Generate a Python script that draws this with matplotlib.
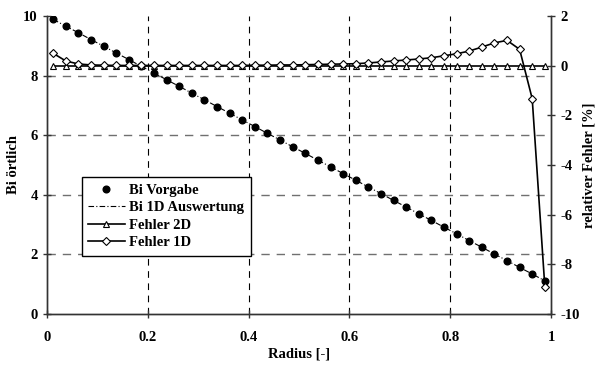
import numpy as np
import matplotlib
matplotlib.use("Agg")
import matplotlib.pyplot as plt

plt.rcParams['font.family'] = ['Liberation Serif', 'DejaVu Serif']
plt.rcParams['font.weight'] = 'bold'
plt.rcParams['axes.unicode_minus'] = False

# radius positions (same for all series)
radius = [0.0125, 0.0375, 0.0625, 0.0875, 0.1125, 0.1375, 0.1625, 0.1875,
          0.2125, 0.2375, 0.2625, 0.2875, 0.3125, 0.3375, 0.3625, 0.3875,
          0.4125, 0.4375, 0.4625, 0.4875, 0.5125, 0.5375, 0.5625, 0.5875,
          0.6125, 0.6375, 0.6625, 0.6875, 0.7125, 0.7375, 0.7625, 0.7875,
          0.8125, 0.8375, 0.8625, 0.8875, 0.9125, 0.9375, 0.9625, 0.9875]

bi_vorgabe = [9.89, 9.66, 9.44, 9.21, 8.99, 8.76, 8.54, 8.31, 8.09, 7.86,
              7.64, 7.41, 7.19, 6.96, 6.74, 6.51, 6.29, 6.06, 5.84, 5.61,
              5.39, 5.16, 4.94, 4.71, 4.49, 4.26, 4.04, 3.81, 3.59, 3.36,
              3.14, 2.91, 2.69, 2.46, 2.24, 2.01, 1.79, 1.56, 1.34, 1.11]

bi_1d = [9.89, 9.66, 9.44, 9.21, 8.99, 8.76, 8.54, 8.31, 8.09, 7.86,
         7.64, 7.41, 7.19, 6.96, 6.74, 6.51, 6.29, 6.06, 5.84, 5.61,
         5.39, 5.16, 4.94, 4.71, 4.49, 4.26, 4.04, 3.81, 3.59, 3.36,
         3.14, 2.91, 2.69, 2.46, 2.24, 2.01, 1.79, 1.56, 1.34, 1.11]

fehler_2d = [0.0] * 40

fehler_1d = [0.50, 0.19, 0.07, 0.03, 0.02, 0.01, 0.01, 0.01, 0.01, 0.01,
             0.01, 0.01, 0.01, 0.01, 0.01, 0.01, 0.02, 0.02, 0.03, 0.03,
             0.04, 0.05, 0.06, 0.07, 0.08, 0.11, 0.15, 0.19, 0.23, 0.27,
             0.32, 0.40, 0.48, 0.59, 0.75, 0.92, 1.02, 0.66, -1.33, -8.90]

fig = plt.figure(figsize=(6.01, 3.65), dpi=100)
ax1 = fig.add_axes([0.078, 0.14, 0.839, 0.816])
ax2 = ax1.twinx()

# grid (left axis)
for gx in [0.2, 0.4, 0.6, 0.8]:
    ax1.axvline(gx, color='black', lw=0.8, ls=(0, (6, 5)), zorder=0)
for gy in [2, 4, 6, 8]:
    ax1.axhline(gy, color='#707070', lw=1.0, ls=(0, (6, 5)), zorder=0)

l1, = ax1.plot(radius, bi_vorgabe, ls='none', marker='o', ms=4.8,
               color='black', label='Bi Vorgabe')
l2, = ax1.plot(radius, bi_1d, ls=(0, (5, 2, 1, 2)), lw=0.8,
               color='black', label='Bi 1D Auswertung')
l3, = ax2.plot(radius, fehler_2d, color='black', lw=1.2, marker='^', ms=4.5,
               mfc='white', mec='black', mew=0.8, label='Fehler 2D')
l4, = ax2.plot(radius, fehler_1d, color='black', lw=1.2, marker='D', ms=4,
               mfc='white', mec='black', mew=0.8, label='Fehler 1D')

ax1.set_xlim(0, 1)
ax1.set_ylim(0, 10)
ax2.set_ylim(-10, 2)
ax1.set_xticks([0, 0.2, 0.4, 0.6, 0.8, 1])
ax1.set_xticklabels(['0', '0.2', '0.4', '0.6', '0.8', '1'])
ax1.set_yticks([0, 2, 4, 6, 8, 10])
ax2.set_yticks([-10, -8, -6, -4, -2, 0, 2])

for ax in (ax1, ax2):
    ax.spines['top'].set_visible(False)
    for s in ax.spines.values():
        s.set_color('#333333')
        s.set_linewidth(1.0)
    ax.tick_params(direction='inout', length=6, width=1.0, labelsize=10.5,
                   color='#333333')
ax1.tick_params(axis='x', pad=9)

ax1.set_xlabel('Radius [-]', fontsize=10.5, fontweight='bold', labelpad=3)
ax1.set_ylabel('Bi örtlich', fontsize=10.5, fontweight='bold', labelpad=2)
ax2.set_ylabel('relativer Fehler [%]', fontsize=10.5, fontweight='bold',
               labelpad=2)

leg = ax2.legend(handles=[l1, l2, l3, l4], loc='upper left',
                 bbox_to_anchor=(0.069, 0.46), borderaxespad=0,
                 fontsize=10.5, fancybox=False, framealpha=1,
                 edgecolor='black', handlelength=2.5, labelspacing=0.3,
                 handletextpad=0.3, borderpad=0.45)
leg.get_frame().set_linewidth(1.0)

fig.savefig('out.png', dpi=100)
